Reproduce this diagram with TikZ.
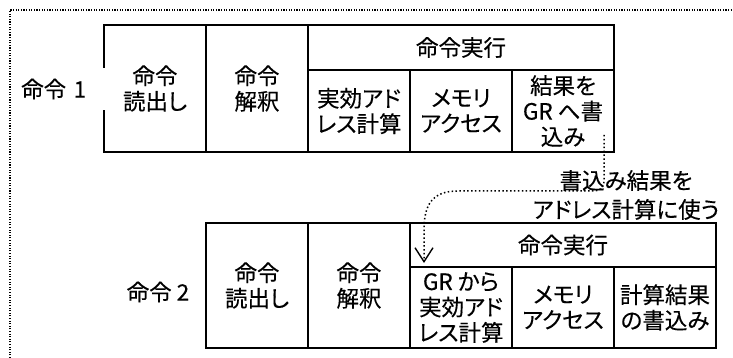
\documentclass[tikz,border=0pt]{standalone}
\usepackage{fontspec}
\setmainfont{Noto Sans CJK JP}[RawFeature={+palt}, FakeBold=0.3]
\usetikzlibrary{arrows.meta}
\begin{document}
\begin{tikzpicture}[x=1pt,y=-1pt,
  txt/.style={font=\fontsize{22.5}{25.5}\selectfont},
  cell/.style={txt, draw, line width=1.6pt, minimum width=102pt, inner sep=0pt, outer sep=0pt, anchor=north west, align=center},
  lbl/.style={txt, inner sep=0pt},
  frame/.style={line width=1.1pt, dash pattern=on 1.1pt off 1.5pt},
  link/.style={line width=1.5pt, dash pattern=on 1.5pt off 2.4pt, -{Straight Barb[length=14pt,width=18pt,line width=1.4pt]}}
]
\useasboundingbox (0,0) rectangle (733,358);
\draw[frame] (10,358) -- (10,10) -- (733,10);

% instruction 1
\node[cell, minimum height=127pt] (r1a) at (104,25) {命令\\読出し};
\node[cell, minimum height=127pt] (r1b) at (206,25) {命令\\解釈};
\node[cell, minimum width=306pt, minimum height=45pt] (r1h) at (308,25) {命令実行};
\node[cell, minimum height=82pt] (r1c) at (308,70) {実効アド\\レス計算};
\node[cell, minimum height=82pt] (r1d) at (410,70) {メモリ\\アクセス};
\node[cell, minimum height=82pt] (r1e) at (512,70) {結果を\\GR へ書\\込み};
\node[lbl, fill=white, anchor=west, minimum height=42pt, text width=93pt, align=left] (l1) at (12,89) {\hspace{9pt}命令 1};

% instruction 2
\node[cell, minimum height=125pt] (r2a) at (206,223) {命令\\読出し};
\node[cell, minimum height=125pt] (r2b) at (308,223) {命令\\解釈};
\node[cell, minimum width=306pt, minimum height=44pt] (r2h) at (410,223) {命令実行};
\node[cell, minimum height=81pt] (r2c) at (410,267) {GR から\\実効アド\\レス計算};
\node[cell, minimum height=81pt] (r2d) at (512,267) {メモリ\\アクセス};
\node[cell, minimum height=81pt] (r2e) at (614,267) {計算結果\\の書込み};
\node[lbl] (l2) at (158,292) {命令 2};

% forwarding note and arrow
\node[lbl, align=center, font=\fontsize{22.5}{29}\selectfont] (note) at (626,195) {書込み結果を\\アドレス計算に使う};
\coordinate (s) at (604,135);
\coordinate (t) at (424,263);
\draw[link] (s) -- (604,180) .. controls (604,189) and (600,191) .. (590,191) -- (458,191) .. controls (432,191) and (424,205) .. (424,230) -- (t);
\end{tikzpicture}
\end{document}
